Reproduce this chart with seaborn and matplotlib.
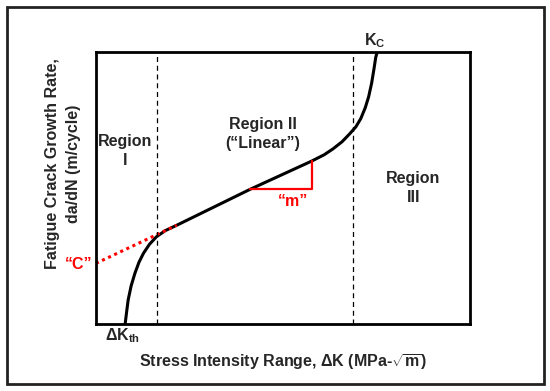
import matplotlib
matplotlib.use("Agg")
import matplotlib.pyplot as plt
import seaborn as sns
import pandas as pd
from matplotlib.patches import Rectangle

# Schematic da/dN vs dK curve (normalised axis units, 0-10)
curve_x = [0.78, 0.82, 0.86, 0.94, 1.04, 1.15, 1.27, 1.43, 1.62, 1.85, 2.16, 4.12,
           5.77, 6.10, 6.34, 6.58, 6.79, 6.95, 7.08, 7.20, 7.29, 7.37, 7.43, 7.48, 7.52]
curve_y = [0.00, 0.45, 0.88, 1.40, 1.86, 2.27, 2.60, 2.93, 3.21, 3.43, 3.63, 4.95,
           5.99, 6.22, 6.44, 6.70, 7.00, 7.25, 7.55, 7.95, 8.35, 8.85, 9.35, 9.80, 10.0]

# Extrapolated Paris line down to dK axis intercept ("C")
c_line_x = [0.0, 2.16]
c_line_y = [2.23, 3.63]

# Slope triangle ("m")
tri_x = [4.12, 5.77, 5.77]
tri_y = [4.95, 4.95, 5.99]

# Region boundaries
bounds = [1.63, 6.86]

sns.set_style("white")
plt.rcParams["font.family"] = ["Liberation Sans", "DejaVu Sans"]
plt.rcParams["font.weight"] = "bold"
plt.rcParams["mathtext.fontset"] = "custom"
plt.rcParams["mathtext.rm"] = "Liberation Sans:bold"
plt.rcParams["mathtext.it"] = "Liberation Sans:bold"
plt.rcParams["mathtext.bf"] = "Liberation Sans:bold"

fig = plt.figure(figsize=(5.5, 3.91), dpi=100)
ax = fig.add_axes([0.1745, 0.1714, 0.68, 0.6957])

# outer frame around the whole figure
fig.patches.append(Rectangle((0.0127, 0.018), 0.976, 0.964, transform=fig.transFigure,
                             fill=False, edgecolor="#222222", linewidth=2))

curve = pd.DataFrame({"x": curve_x, "y": curve_y})
sns.lineplot(data=curve, x="x", y="y", sort=False, estimator=None, color="black",
             linewidth=2.2, ax=ax)
sns.lineplot(x=c_line_x, y=c_line_y, sort=False, estimator=None, color="red",
             linewidth=2.2, linestyle=(0, (1, 1.2)), ax=ax)
sns.lineplot(x=tri_x, y=tri_y, sort=False, estimator=None, color="red", linewidth=1.6,
             ax=ax)

for b in bounds:
    ax.axvline(b, color="black", linestyle=(0, (4, 3)), linewidth=0.9)

ax.set_xlim(0, 10)
ax.set_ylim(0, 10)
ax.set_xticks([])
ax.set_yticks([])
for s in ax.spines.values():
    s.set_linewidth(2)
    s.set_color("black")

fs = 11.5
ax.text(0.79, 6.36, "Region\nI", ha="center", va="center", fontsize=fs, fontweight="bold",
        linespacing=1.3)
ax.text(4.46, 6.98, "Region II\n(“Linear”)", ha="center", va="center", fontsize=fs,
        fontweight="bold", linespacing=1.3)
ax.text(8.48, 5.01, "Region\nIII", ha="center", va="center", fontsize=fs, fontweight="bold",
        linespacing=1.3)
ax.text(5.28, 4.52, "“m”", ha="center", va="center", fontsize=fs, fontweight="bold",
        color="red")
ax.text(-0.08, 2.18, "“C”", ha="right", va="center", fontsize=fs, fontweight="bold",
        color="red")
ax.text(7.45, 10.42, r"K$_{\rm C}$", ha="center", va="center", fontsize=fs, fontweight="bold")
ax.text(0.72, -0.42, r"ΔK$_{\rm th}$", ha="center", va="center", fontsize=fs,
        fontweight="bold")

ax.set_xlabel(r"Stress Intensity Range, ΔK (MPa-$\sqrt{\rm m}$)", fontsize=fs,
              fontweight="bold", labelpad=20)
ax.set_ylabel("Fatigue Crack Growth Rate,\nda/dN (m/cycle)", fontsize=fs,
              fontweight="bold", linespacing=1.5)
ax.yaxis.set_label_coords(-0.04, 0.59)

fig.savefig("out.png", dpi=100)
